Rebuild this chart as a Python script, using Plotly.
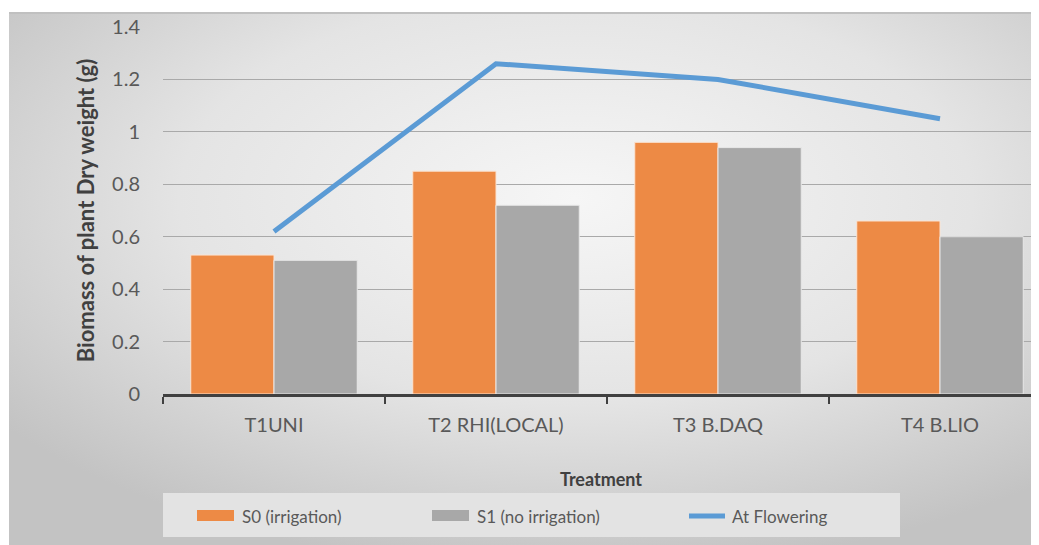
import base64
import plotly.graph_objects as go

categories = ["T1UNI", "T2 RHI(LOCAL)", "T3 B.DAQ", "T4 B.LIO"]
s0_irrigation = [0.53, 0.85, 0.96, 0.66]
s1_no_irrigation = [0.51, 0.72, 0.94, 0.60]
at_flowering = [0.62, 1.26, 1.20, 1.05]
y_ticks = [0, 0.2, 0.4, 0.6, 0.8, 1, 1.2, 1.4]
y_tick_labels = ["0", "0.2", "0.4", "0.6", "0.8", "1", "1.2", "1.4"]

# the page body adds an 8px margin, so the figure is sized to fit the window
OFF = 8
W, H = 1039 - OFF, 545 - OFF
L, R, T, B = 163 - OFF, 0, 27 - OFF, 545 - 394
PW, PH = W - L - R, H - T - B


def px(x):
    """page pixel x -> paper coordinate"""
    return (x - OFF - L) / PW


def py(y):
    """page pixel y -> paper coordinate"""
    return (394 - y) / PH


FONT = "Lato"
ORANGE = "#ed8a45"
GRAY = "#a8a8a8"
BLUE = "#5b9bd5"

fig = go.Figure()
fig.add_trace(go.Bar(x=categories, y=s0_irrigation, name="S0 (irrigation)",
                     marker=dict(color=ORANGE, line=dict(color="#fbe3d2", width=1)),
                     showlegend=False))
fig.add_trace(go.Bar(x=categories, y=s1_no_irrigation, name="S1 (no irrigation)",
                     marker=dict(color=GRAY, line=dict(color="#e8e8e8", width=1)),
                     showlegend=False))
fig.add_trace(go.Scatter(x=categories, y=at_flowering, name="At Flowering", mode="lines",
                         line=dict(color=BLUE, width=5), showlegend=False))

# background gradient (chart area fill)
svg = (
    '<svg xmlns="http://www.w3.org/2000/svg" width="1030" height="533" preserveAspectRatio="none">'
    '<defs><radialGradient id="g" cx="55%" cy="35%" r="70%">'
    '<stop offset="0" stop-color="#f6f6f6"/><stop offset="0.55" stop-color="#e4e4e4"/>'
    '<stop offset="1" stop-color="#c3c3c3"/></radialGradient></defs>'
    '<rect width="1030" height="533" fill="url(#g)"/>'
    '<rect width="1030" height="2" fill="#c0c0c0"/></svg>'
)
src = "data:image/svg+xml;base64," + base64.b64encode(svg.encode()).decode()
fig.add_layout_image(dict(source=src, xref="paper", yref="paper", x=px(9), y=py(12),
                          sizex=px(1039) - px(9), sizey=py(12) - py(545), xanchor="left",
                          yanchor="top", sizing="stretch", layer="below"))

# legend box (manual)
fig.add_shape(type="rect", xref="paper", yref="paper", x0=px(163), x1=px(900),
              y0=py(537), y1=py(493), fillcolor="#e3e3e3", line=dict(width=0), layer="below")
legend_items = [("S0 (irrigation)", ORANGE, 197, "bar"),
                ("S1 (no irrigation)", GRAY, 432, "bar"),
                ("At Flowering", BLUE, 687, "line")]
for name, color, x0, kind in legend_items:
    if kind == "bar":
        fig.add_shape(type="rect", xref="paper", yref="paper", x0=px(x0), x1=px(x0 + 37),
                      y0=py(521), y1=py(510), fillcolor=color, line=dict(width=0))
    else:
        fig.add_shape(type="line", xref="paper", yref="paper", x0=px(x0 + 2), x1=px(x0 + 38),
                      y0=py(516), y1=py(516), line=dict(color=color, width=5))
    fig.add_annotation(text=name, xref="paper", yref="paper", x=px(x0 + 43), y=py(516),
                       xanchor="left", yanchor="middle", showarrow=False,
                       font=dict(family=FONT, size=17, color="#595959"))

fig.update_layout(
    width=W, height=H,
    margin=dict(l=L, r=R, t=T, b=B, autoexpand=False),
    paper_bgcolor="white",
    plot_bgcolor="rgba(0,0,0,0)",
    barmode="group", bargap=0.25, bargroupgap=0,
    font=dict(family=FONT, size=17, color="#595959"),
    showlegend=False,
)
fig.update_xaxes(
    type="category", range=[-0.5, -0.5 + PW / 222.0], categoryorder="array",
    categoryarray=categories,
    showgrid=False, showline=True, linecolor="#404040", linewidth=2.5,
    ticks="outside", tickson="boundaries", ticklen=7, tickwidth=2, tickcolor="#404040",
    tickfont=dict(family=FONT, size=20, color="#595959"), ticklabelstandoff=11,
    title=dict(text="<b>Treatment</b>", font=dict(family=FONT, size=18, color="#404040"),
               standoff=39),
    zeroline=False, automargin=False,
)
fig.update_yaxes(
    range=[0, 1.4], tickvals=y_ticks, ticktext=y_tick_labels,
    showgrid=True, gridcolor="#a9a9a9", gridwidth=1.3,
    showline=False, zeroline=False, ticks="", ticklabelstandoff=22,
    tickfont=dict(family=FONT, size=20, color="#595959"),
    title=dict(text="<b>Biomass of plant Dry weight (g)</b>",
               font=dict(family=FONT, size=22, color="#404040"), standoff=11),
    automargin=False,
)

fig.write_html("out.html")
